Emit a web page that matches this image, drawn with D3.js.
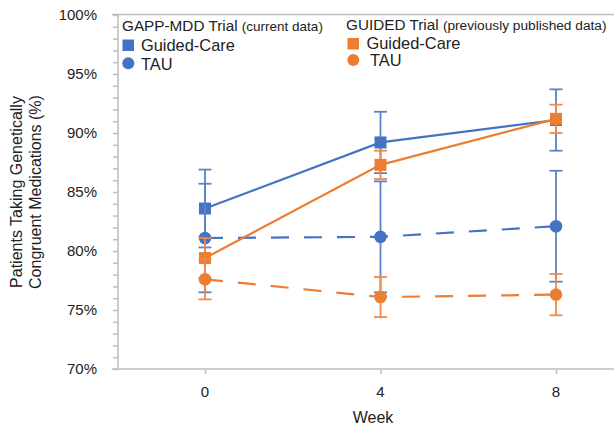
<!DOCTYPE html>
<html>
<head>
<meta charset="utf-8">
<script src="https://cdn.jsdelivr.net/npm/d3@7"></script>
<style>
  body { margin: 0; background: #fff; }
  text { font-family: Arial, "Liberation Sans", sans-serif; fill: #222; }
</style>
</head>
<body>
<div id="chart"></div>
<script>
// data
var weeks = [0, 4, 8];
var yTicks = [70, 75, 80, 85, 90, 95, 100];

var gappGuided = [83.6, 89.2, 91.1];
var gappGuidedErr = [3.3, 2.6, 2.6];
var gappTau = [81.1, 81.2, 82.1];
var gappTauErr = [4.6, 4.7, 4.7];

var guidedGuided = [79.4, 87.3, 91.2];
var guidedGuidedErr = [1.7, 1.2, 1.2];
var guidedTau = [77.6, 76.1, 76.3];
var guidedTauErr = [1.7, 1.7, 1.75];

window.document.addEventListener('DOMContentLoaded', () => {

  var width = 614;
  var height = 429;
  var blue = "#4472C4";
  var orange = "#ED7D31";
  var axisGray = "#BFBFBF";

  var svg = d3.select("#chart")
    .append("svg")
    .attr("width", width)
    .attr("height", height);

  var x = d3.scaleLinear().domain([0, 8]).range([205, 556]);
  var y = d3.scaleLinear().domain([70, 100]).range([369, 15]);

  //top border
  svg.append("line")
    .attr("x1", 112).attr("x2", width)
    .attr("y1", y(100) - 0.5).attr("y2", y(100) - 0.5)
    .style("stroke", axisGray).style("stroke-width", 1.5);

  //y axis, ticks every 1%
  var yAxis = d3.axisLeft(y)
    .tickValues(d3.range(70, 101, 1))
    .tickSize(5)
    .tickFormat("");
  var gy = svg.append("g")
    .attr("transform", "translate(118,0)")
    .call(yAxis);
  gy.selectAll("line, path").style("stroke", axisGray).style("stroke-width", 1.5);
  gy.select(".domain").attr("d", "M0," + y(100) + "V" + y(70));

  svg.selectAll(".ylab")
    .data(yTicks)
    .enter()
    .append("text")
    .attr("class", "ylab")
    .attr("x", 97)
    .attr("y", d => y(d))
    .attr("dy", "0.36em")
    .attr("text-anchor", "end")
    .style("font-size", "15px")
    .text(d => d + "%");

  //x axis
  var xAxis = d3.axisBottom(x)
    .tickValues(weeks)
    .tickSize(5)
    .tickFormat("");
  var gx = svg.append("g")
    .attr("transform", "translate(0,369)")
    .call(xAxis);
  gx.selectAll("line, path").style("stroke", axisGray).style("stroke-width", 1.5);
  gx.select(".domain").attr("d", "M112,0H" + width);

  svg.selectAll(".xlab")
    .data(weeks)
    .enter()
    .append("text")
    .attr("class", "xlab")
    .attr("x", d => x(d))
    .attr("y", 397)
    .attr("text-anchor", "middle")
    .style("font-size", "15px")
    .text(d => d);

  //axis titles
  svg.append("text")
    .attr("x", 373)
    .attr("y", 423)
    .attr("text-anchor", "middle")
    .style("font-size", "16px")
    .text("Week");

  var yTitle = svg.append("text")
    .attr("transform", "translate(0,192) rotate(-90)")
    .attr("text-anchor", "middle")
    .style("font-size", "16px");
  yTitle.append("tspan").attr("x", 0).attr("y", 22).text("Patients Taking Genetically");
  yTitle.append("tspan").attr("x", 0).attr("y", 41).text("Congruent Medications (%)");

  function drawSeries(vals, errs, color, errColor, marker, dashed) {
    var pts = weeks.map((w, i) => ({ w: w, v: vals[i], e: errs[i] }));

    //error bars
    var eb = svg.append("g")
      .style("stroke", errColor)
      .style("stroke-width", 1.8);
    pts.forEach(function (p) {
      eb.append("line")
        .attr("x1", x(p.w)).attr("x2", x(p.w))
        .attr("y1", y(p.v + p.e)).attr("y2", y(p.v - p.e));
      [p.v + p.e, p.v - p.e].forEach(function (c) {
        eb.append("line")
          .attr("x1", x(p.w) - 6.5).attr("x2", x(p.w) + 6.5)
          .attr("y1", y(c)).attr("y2", y(c));
      });
    });

    var line = d3.line()
      .x(d => x(d.w))
      .y(d => y(d.v));
    svg.append("path")
      .datum(pts)
      .attr("d", line)
      .style("fill", "none")
      .style("stroke", color)
      .style("stroke-width", 2.2)
      .style("stroke-dasharray", dashed ? "18,15" : null);

    if (marker == "square") {
      svg.selectAll(null)
        .data(pts)
        .enter()
        .append("rect")
        .attr("x", d => x(d.w) - 6)
        .attr("y", d => y(d.v) - 6)
        .attr("width", 12)
        .attr("height", 12)
        .style("fill", color);
    } else {
      svg.selectAll(null)
        .data(pts)
        .enter()
        .append("circle")
        .attr("cx", d => x(d.w))
        .attr("cy", d => y(d.v))
        .attr("r", 6.3)
        .style("fill", color);
    }
  }

  drawSeries(gappGuided, gappGuidedErr, blue, "#5A82CA", "square", false);
  drawSeries(gappTau, gappTauErr, blue, "#5A82CA", "circle", true);
  drawSeries(guidedGuided, guidedGuidedErr, orange, "#EF8A48", "square", false);
  drawSeries(guidedTau, guidedTauErr, orange, "#EF8A48", "circle", true);

  //legend
  var leg = svg.append("g");
  leg.append("text")
    .attr("x", 122).attr("y", 31)
    .style("font-size", "15.3px")
    .text("GAPP-MDD Trial ")
    .append("tspan")
    .style("font-size", "13.5px")
    .text("(current data)");
  leg.append("rect")
    .attr("x", 122.5).attr("y", 39.5)
    .attr("width", 11.5).attr("height", 11.5)
    .style("fill", blue);
  leg.append("text")
    .attr("x", 141).attr("y", 50.5)
    .style("font-size", "16.4px")
    .text("Guided-Care");
  leg.append("circle")
    .attr("cx", 128.3).attr("cy", 63.3).attr("r", 6)
    .style("fill", blue);
  leg.append("text")
    .attr("x", 141).attr("y", 69.5)
    .style("font-size", "16.4px")
    .text("TAU");

  leg.append("text")
    .attr("x", 346).attr("y", 29.5)
    .style("font-size", "15.3px")
    .text("GUIDED Trial ")
    .append("tspan")
    .style("font-size", "13.7px")
    .text("(previously published data)");
  leg.append("rect")
    .attr("x", 347.5).attr("y", 38)
    .attr("width", 11.5).attr("height", 11.5)
    .style("fill", orange);
  leg.append("text")
    .attr("x", 366.5).attr("y", 48.5)
    .style("font-size", "16.4px")
    .text("Guided-Care");
  leg.append("circle")
    .attr("cx", 353.3).attr("cy", 60).attr("r", 6)
    .style("fill", orange);
  leg.append("text")
    .attr("x", 370).attr("y", 65.5)
    .style("font-size", "16.4px")
    .text("TAU");

})
</script>
</body>
</html>
